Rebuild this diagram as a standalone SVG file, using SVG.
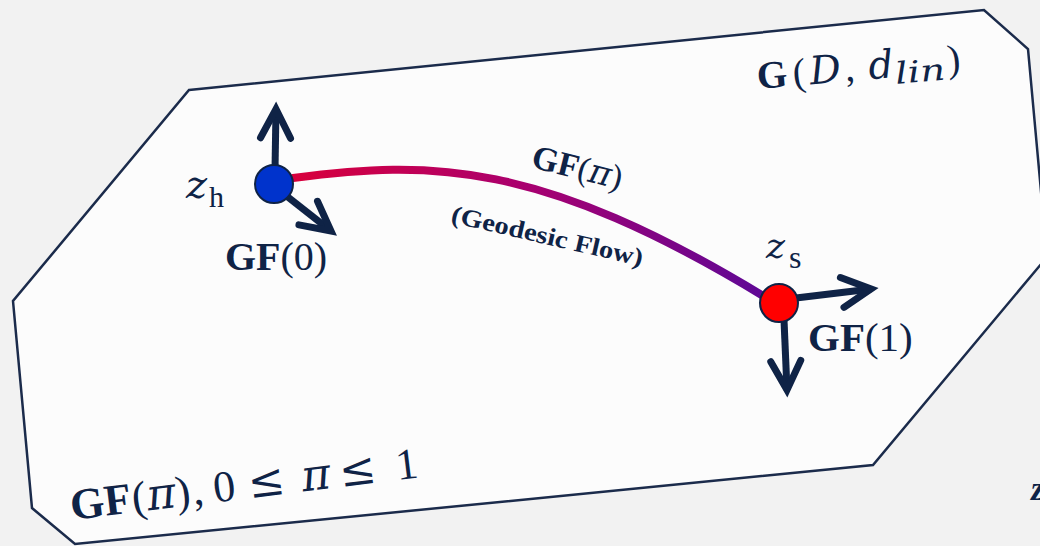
<svg xmlns="http://www.w3.org/2000/svg" width="1040" height="546" viewBox="0 0 1040 546">
  <defs>
    <linearGradient id="flowGrad" x1="293" y1="0" x2="765" y2="0" gradientUnits="userSpaceOnUse">
      <stop offset="0" stop-color="#d8003c"/>
      <stop offset="0.5" stop-color="#a80070"/>
      <stop offset="1" stop-color="#5e0896"/>
    </linearGradient>
    <marker id="chev" markerUnits="userSpaceOnUse" markerWidth="80" markerHeight="80" viewBox="-40 -40 80 80" refX="0" refY="0" orient="auto" overflow="visible">
      <path d="M-29,-15 L0,0 L-29,15" fill="none" stroke="#0f2346" stroke-width="7" stroke-linecap="round" stroke-linejoin="miter"/>
    </marker>
  </defs>
  <style>
    .lbl { font-family: "Liberation Serif", "DejaVu Serif", serif; fill: #0f2346; }
    .b { font-weight: bold; }
    .i { font-family: "DejaVu Serif", "Liberation Serif", serif; font-style: italic; }
    .op { font-family: "DejaVu Serif", serif; }
    .arrow { stroke: #0f2346; stroke-width: 7; fill: none; marker-end: url(#chev); }
    .node { stroke: #0f2346; stroke-width: 2; }
  </style>
  <rect x="0" y="0" width="1040" height="546" fill="#f2f2f2"/>

  <g id="manifold">
    <polygon points="189,90 984,10 1028,49 1047,257 873,465 75,544 32,508 13,301" fill="#fcfcfc" stroke="#1b2b4b" stroke-width="2.5" stroke-linejoin="miter"/>
    <text class="lbl" transform="translate(758,89) rotate(-5)" font-size="39"><tspan class="b" x="0">G</tspan><tspan x="36">(</tspan><tspan class="i" x="53">D</tspan><tspan x="88">,</tspan><tspan class="i" x="112">d</tspan><tspan class="i" x="138" dy="7" font-size="30" textLength="50" lengthAdjust="spacingAndGlyphs">lin</tspan><tspan x="191" dy="-7">)</tspan></text>
    <text class="lbl" transform="translate(72,520) rotate(-7)" font-size="44"><tspan class="b" x="0">GF</tspan><tspan x="62">(</tspan><tspan class="i" x="77">π</tspan><tspan x="106">)</tspan><tspan x="123">,</tspan><tspan x="144">0</tspan><tspan class="op" x="179">≤</tspan><tspan class="i" x="233">π</tspan><tspan class="op" x="271">≤</tspan><tspan x="328">1</tspan></text>
    <text class="lbl b" x="1031" y="500" font-size="34" font-style="italic">z</text>
  </g>

  <g id="connectors">
    <path id="flow" d="M293,178 C430,160 540,160 765,297" fill="none" stroke="url(#flowGrad)" stroke-width="8" stroke-linecap="round"/>
    <line class="arrow" x1="275" y1="170" x2="276" y2="109"/>
    <line class="arrow" x1="284" y1="194" x2="331" y2="231"/>
    <line class="arrow" x1="796" y1="298" x2="871" y2="289"/>
    <line class="arrow" x1="784" y1="320" x2="787" y2="390"/>
    <text class="lbl" transform="translate(530,167) rotate(14)" font-size="34"><tspan class="b">GF</tspan>(<tspan class="i">π</tspan>)</text>
    <text class="lbl b" transform="translate(450,222) rotate(13)" font-size="25" textLength="196" lengthAdjust="spacingAndGlyphs">(Geodesic Flow)</text>
  </g>

  <g id="node-zh">
    <circle class="node" cx="274" cy="184" r="19" fill="#0033cc"/>
    <text class="lbl" x="186" y="198" font-size="40"><tspan class="i">z</tspan><tspan x="209" dy="9" font-size="30">h</tspan></text>
    <text class="lbl" x="225" y="270" font-size="40"><tspan class="b">GF</tspan>(0)</text>
  </g>

  <g id="node-zs">
    <circle class="node" cx="779" cy="303" r="19" fill="#ff0000"/>
    <text class="lbl" x="766" y="258" font-size="36"><tspan class="i">z</tspan><tspan x="789" dy="10" font-size="32">s</tspan></text>
    <text class="lbl" x="808" y="351" font-size="41"><tspan class="b">GF</tspan>(1)</text>
  </g>
</svg>
